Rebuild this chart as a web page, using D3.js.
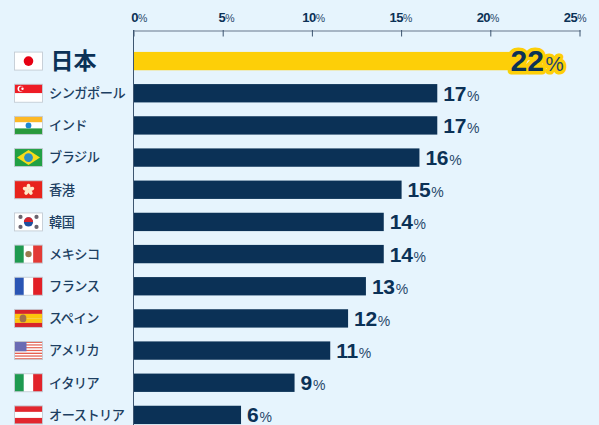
<!DOCTYPE html>
<html lang="ja">
<head>
<meta charset="utf-8">
<script src="https://cdn.jsdelivr.net/npm/d3@7"></script>
<style>
html,body{margin:0;padding:0;background:#e6f4fd;}
svg{display:block;}
text{font-family:"Liberation Sans",Arial,sans-serif;}
.jp{font-family:"Noto Sans CJK JP",sans-serif;}
</style>
</head>
<body>
<svg id="chart" width="599" height="425"></svg>
<script>
const countries = ["日本","シンガポール","インド","ブラジル","香港","韓国","メキシコ","フランス","スペイン","アメリカ","イタリア","オーストリア"];
const rates = [22,17,17,16,15,14,14,13,12,11,9,6];
const axisTicks = [0,5,10,15,20,25];
const flagCodes = ["jp","sg","in","br","hk","kr","mx","fr","es","us","it","at"];

const navy = "#0b3156", gold = "#fdcf08", bg = "#e6f4fd";
const svg = d3.select("#chart");

const x = d3.scaleLinear().domain([0,25]).range([134,580]);
const y = d3.scaleBand().domain(countries).range([45,431]).paddingInner(0.43).paddingOuter(0.215);
// Tick labels are pulled inward so the end ones stay clear of the plot edges
const tickLabelX = d3.scaleLinear().domain([0,25]).range([139,575]);

// Bars
svg.append("g").selectAll("rect").data(countries).join("rect")
  .attr("x", x(0)).attr("y", d => y(d))
  .attr("width", (d,i) => x(rates[i]) - x(0))
  .attr("height", y.bandwidth())
  .attr("fill", (d,i) => i === 0 ? gold : navy);

// Top axis, with the baseline continuing down the left side
const axis = d3.axisTop(x).tickValues(axisTicks).tickSize(0).tickFormat("");
const axisG = svg.append("g").attr("transform","translate(0,30.5)").call(axis);
axisG.select(".domain").attr("stroke","#66778c").attr("stroke-width",1.2);
svg.append("g").selectAll("line").data(axisTicks).join("line")
  .attr("x1", d => x(d)).attr("x2", d => x(d))
  .attr("y1", 30).attr("y2", 36.5)
  .attr("stroke", "#3d5570").attr("stroke-width",1);
svg.append("line").attr("x1",x(0)-0.5).attr("x2",x(0)-0.5).attr("y1",30).attr("y2",425)
  .attr("stroke","#3d5570").attr("stroke-width",1);

const tickLabels = svg.append("g").selectAll("text").data(axisTicks).join("text")
  .attr("x", d => tickLabelX(d)).attr("y", 22).attr("text-anchor","middle")
  .attr("fill", navy).attr("font-weight","700").attr("font-size",13).attr("letter-spacing",-0.5);
tickLabels.append("tspan").text(d => d);
tickLabels.append("tspan").attr("font-size",10.5).attr("font-weight","400").attr("fill","#26476a").text("%");

// Value labels
const valueLabels = svg.append("g").selectAll("text").data(countries).join("text")
  .attr("x", (d,i) => i === 0 ? 510.5 : x(rates[i]) + 6)
  .attr("y", (d,i) => y(d) + y.bandwidth()/2 + (i === 0 ? 9.5 : 7.5))
  .attr("fill", navy).attr("font-weight","700")
  .attr("font-size", (d,i) => i === 0 ? 30 : 21)
  .attr("stroke", (d,i) => i === 0 ? gold : "none")
  .attr("stroke-width", (d,i) => i === 0 ? 7 : 0)
  .attr("stroke-linejoin","round")
  .attr("paint-order","stroke");
valueLabels.append("tspan").attr("letter-spacing", (d,i) => i === 0 ? 0 : -0.3).text((d,i) => rates[i]);
valueLabels.append("tspan")
  .attr("dx", (d,i) => i === 0 ? 1.5 : 1)
  .attr("font-size", (d,i) => i === 0 ? 20.5 : 14)
  .attr("font-weight","400").attr("fill","#26476a").text("%");

// Country names
svg.append("g").selectAll("text").data(countries).join("text")
  .attr("class","jp")
  .attr("x", (d,i) => i === 0 ? 50.5 : 49)
  .attr("y", d => y(d) + y.bandwidth()/2)
  .attr("dy","0.36em")
  .attr("fill", (d,i) => i === 0 ? navy : "#1d3f62")
  .attr("font-size", (d,i) => i === 0 ? 23 : 13.2)
  .attr("font-weight", (d,i) => i === 0 ? 700 : 500)
  .attr("letter-spacing", (d,i) => i === 0 ? 0 : -0.5)
  .text(d => d);

// Flags, each in a 28 x 18 local box
const flagW = 28, flagH = 18;
const stripesH = (g, cols) => cols.forEach((c,i) => g.append("rect").attr("y", flagH*i/cols.length).attr("width",flagW).attr("height",flagH/cols.length).attr("fill",c));
const stripesV = (g, cols) => cols.forEach((c,i) => g.append("rect").attr("x", flagW*i/cols.length).attr("width",flagW/cols.length).attr("height",flagH).attr("fill",c));
const flagPainters = {
  jp: g => { stripesH(g,["#fff"]); g.append("circle").attr("cx",14).attr("cy",9).attr("r",4.8).attr("fill","#e60012"); },
  sg: g => { stripesH(g,["#ee1c25","#fff"]);
    g.append("circle").attr("cx",6).attr("cy",4.5).attr("r",3).attr("fill","#fff");
    g.append("circle").attr("cx",7.2).attr("cy",4.5).attr("r",2.6).attr("fill","#ee1c25");
    g.append("circle").attr("cx",8).attr("cy",4.5).attr("r",1.2).attr("fill","#fff"); },
  in: g => { stripesH(g,["#fdb825","#fff","#2a9a3c"]); g.append("circle").attr("cx",14).attr("cy",9).attr("r",2.9).attr("fill","#1d87d0"); },
  br: g => { stripesH(g,["#22a045"]);
    g.append("path").attr("d","M14 1.5L25.5 9L14 16.5L2.5 9Z").attr("fill","#f7dc1a");
    g.append("circle").attr("cx",14).attr("cy",9).attr("r",4.4).attr("fill","#2d8fc4"); },
  hk: g => { stripesH(g,["#e8231c"]);
    d3.range(5).forEach(k => g.append("ellipse").attr("cx",14).attr("cy",6).attr("rx",1.9).attr("ry",2.9).attr("fill","#ffe9c9").attr("transform",`rotate(${k*72} 14 9)`)); },
  kr: g => { stripesH(g,["#fff"]);
    g.append("circle").attr("cx",14).attr("cy",9).attr("r",4.6).attr("fill","#1f4f9e");
    g.append("path").attr("d","M9.4 9A4.6 4.6 0 0 1 18.6 9Z").attr("fill","#d8232a");
    [[6,4],[22,4],[6,14],[22,14]].forEach(([cx,cy]) => g.append("circle").attr("cx",cx).attr("cy",cy).attr("r",2.1).attr("fill","#6a6570")); },
  mx: g => { stripesV(g,["#1f9a50","#fff","#e33a35"]); g.append("circle").attr("cx",14).attr("cy",9).attr("r",3.2).attr("fill","#9a7b4f"); },
  fr: g => stripesV(g,["#2a55b4","#fff","#e21f26"]),
  es: g => { stripesH(g,["#d8242a","#fcc40d","#fcc40d","#d8242a"]);
    g.append("ellipse").attr("cx",8.5).attr("cy",9).attr("rx",3.4).attr("ry",3.9).attr("fill","#a0714c"); },
  us: g => { stripesH(g,d3.range(13).map(k => k%2 ? "#fff" : "#e8604f"));
    g.append("rect").attr("width",12).attr("height",9.7).attr("fill","#6a6bb3"); },
  it: g => stripesV(g,["#1f9a50","#fff","#e2232a"]),
  at: g => stripesH(g,["#e2262e","#fff","#e2262e"])
};
svg.append("g").selectAll("g").data(countries).join("g")
  .attr("transform", d => `translate(14.5,${y(d) + y.bandwidth()/2 - flagH/2})`)
  .each(function(d,i){
    const g = d3.select(this);
    flagPainters[flagCodes[i]](g);
    g.append("rect").attr("width",flagW).attr("height",flagH).attr("fill","none")
      .attr("stroke","#c4ccd4").attr("stroke-width",0.9);
  });
</script>
</body>
</html>
